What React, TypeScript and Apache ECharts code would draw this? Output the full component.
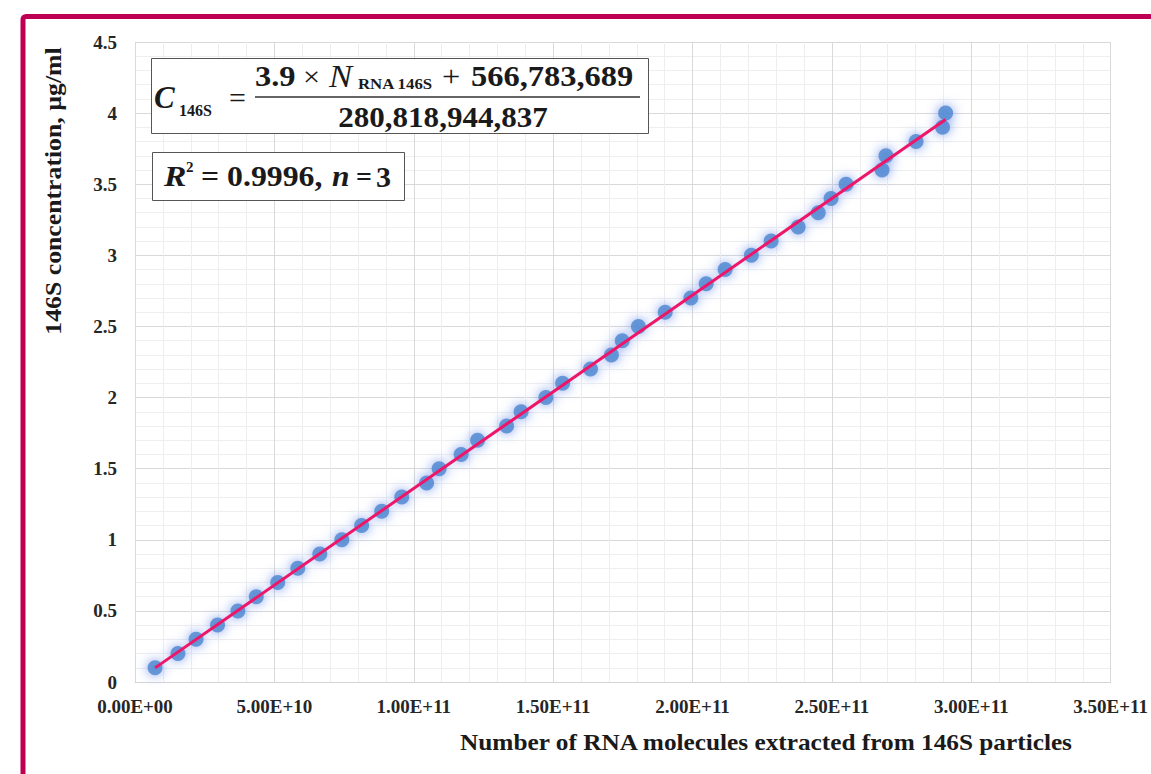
import React, { useEffect, useRef } from "react";
import * as echarts from "echarts";

// Concentration levels (µg/ml)
const concentrations = [
  0.1, 0.2, 0.3, 0.4, 0.5, 0.6, 0.7, 0.8, 0.9, 1.0,
  1.1, 1.2, 1.3, 1.4, 1.5, 1.6, 1.7, 1.8, 1.9, 2.0,
  2.1, 2.2, 2.3, 2.4, 2.5, 2.6, 2.7, 2.8, 2.9, 3.0,
  3.1, 3.2, 3.3, 3.4, 3.5, 3.6, 3.7, 3.8, 3.9, 4.0,
];
// Number of RNA molecules extracted from 146S particles
const rnaMolecules = [
  7.2e9, 1.54e10, 2.19e10, 2.96e10, 3.69e10, 4.35e10, 5.12e10, 5.84e10, 6.63e10, 7.42e10,
  8.13e10, 8.85e10, 9.57e10, 1.046e11, 1.091e11, 1.17e11, 1.229e11, 1.333e11, 1.385e11, 1.474e11,
  1.534e11, 1.634e11, 1.709e11, 1.748e11, 1.806e11, 1.902e11, 1.994e11, 2.049e11, 2.117e11, 2.211e11,
  2.282e11, 2.379e11, 2.451e11, 2.497e11, 2.551e11, 2.68e11, 2.694e11, 2.802e11, 2.897e11, 2.908e11,
];

const xTitle = "Number of RNA molecules extracted from 146S particles";
const yTitle = "146S concentration, µg/ml";

const SERIF = "'Liberation Serif', 'Times New Roman', serif";
const INK = "#1a1a1a";
const SX = 1.12;

function fmtExp(v: number): string {
  const s = v.toExponential(2).toUpperCase();
  const m = s.match(/^(-?[\d.]+)E([+-])(\d+)$/);
  if (!m) return s;
  return `${m[1]}E${m[2]}${m[3].padStart(2, "0")}`;
}

function fit(xs: number[], ys: number[]) {
  const n = xs.length;
  const mx = xs.reduce((a, b) => a + b, 0) / n;
  const my = ys.reduce((a, b) => a + b, 0) / n;
  let sxy = 0;
  let sxx = 0;
  for (let i = 0; i < n; i++) {
    sxy += (xs[i] - mx) * (ys[i] - my);
    sxx += (xs[i] - mx) * (xs[i] - mx);
  }
  const slope = sxy / sxx;
  return { slope, intercept: my - slope * mx };
}

type TxtOpt = {
  size: number;
  bold?: boolean;
  italic?: boolean;
  align?: "left" | "center" | "right";
  scaleX?: number;
};

function txt(text: string, x: number, y: number, o: TxtOpt) {
  return {
    type: "text",
    x,
    y,
    scaleX: o.scaleX ?? 1,
    z: 11,
    style: {
      text,
      fontFamily: SERIF,
      fontSize: o.size,
      fontWeight: o.bold ? "bold" : "normal",
      fontStyle: o.italic ? "italic" : "normal",
      fill: INK,
      align: o.align ?? "left",
      verticalAlign: "middle",
    },
  };
}

export default function App() {
  const ref = useRef<HTMLDivElement>(null);

  useEffect(() => {
    if (!ref.current) return;
    const chart = echarts.init(ref.current, undefined, { renderer: "svg" });
    const points = rnaMolecules.map((x, i) => [x, concentrations[i]]);
    const { slope, intercept } = fit(rnaMolecules, concentrations);
    const xMin = Math.min(...rnaMolecules);
    const xMax = Math.max(...rnaMolecules);
    const trend = [
      [xMin, slope * xMin + intercept],
      [xMax, slope * xMax + intercept],
    ];

    const labelStyle = {
      fontFamily: SERIF,
      fontWeight: "bold" as const,
      fontSize: 19,
      color: "#262626",
    };

    chart.setOption({
      animation: false,
      backgroundColor: "#ffffff",
      grid: { left: 135, top: 42, right: 39, bottom: 92, containLabel: false },
      xAxis: {
        type: "value",
        min: 0,
        max: 3.5e11,
        interval: 5e10,
        axisLine: { show: true, lineStyle: { color: "#d4d4d4", width: 1 } },
        axisTick: { show: false },
        axisLabel: { ...labelStyle, margin: 15, formatter: (v: number) => fmtExp(v) },
        splitLine: { show: true, lineStyle: { color: "#d9d9d9", width: 1 } },
        minorTick: { show: false, splitNumber: 5 },
        minorSplitLine: { show: true, lineStyle: { color: "#eeeeee", width: 1 } },
      },
      yAxis: {
        type: "value",
        min: 0,
        max: 4.5,
        interval: 0.5,
        axisLine: { show: false },
        axisTick: { show: false },
        axisLabel: { ...labelStyle, margin: 18, formatter: (v: number) => String(v) },
        splitLine: { show: true, lineStyle: { color: "#d9d9d9", width: 1 } },
        minorTick: { show: false, splitNumber: 5 },
        minorSplitLine: { show: true, lineStyle: { color: "#eeeeee", width: 1 } },
      },
      series: [
        {
          type: "scatter",
          data: points,
          symbol: "circle",
          symbolSize: 15,
          itemStyle: {
            color: "#4c86cf",
            shadowBlur: 12,
            shadowColor: "rgba(80,120,230,0.95)",
          },
          z: 2,
        },
        {
          type: "line",
          data: trend,
          symbol: "none",
          lineStyle: { color: "#ee1669", width: 3 },
          z: 3,
        },
      ],
      graphic: [
        // magenta frame
        {
          type: "rect",
          shape: { x: 23, y: 16.5, width: 1300, height: 900, r: 3 },
          style: { fill: "none", stroke: "#be0055", lineWidth: 5 },
          z: 10,
        },
        // y axis title
        {
          type: "text",
          x: 53,
          y: 191,
          rotation: Math.PI / 2,
          scaleX: 1.12,
          style: {
            text: yTitle,
            fontFamily: SERIF,
            fontWeight: "bold",
            fontSize: 23,
            fill: INK,
            align: "center",
            verticalAlign: "middle",
          },
          z: 10,
        },
        // x axis title
        {
          type: "text",
          x: 766,
          y: 742,
          scaleX: 1.1,
          style: {
            text: xTitle,
            fontFamily: SERIF,
            fontWeight: "bold",
            fontSize: 23,
            fill: INK,
            align: "center",
            verticalAlign: "middle",
          },
          z: 10,
        },
        // equation box
        {
          type: "rect",
          shape: { x: 151.5, y: 58.5, width: 497, height: 75 },
          style: { fill: "#ffffff", stroke: "#555555", lineWidth: 1 },
          z: 10,
        },
        txt("C", 154, 97, { size: 31, bold: true, italic: true }),
        txt("146S", 179, 110, { size: 16, bold: true }),
        txt("=", 229, 97, { size: 30 }),
        txt("3.9", 255, 77, { size: 29, bold: true, scaleX: SX }),
        txt("×", 303, 77, { size: 27, scaleX: SX }),
        txt("N", 329, 77, { size: 31, italic: true, scaleX: SX }),
        txt("RNA 146S", 358, 84, { size: 15, bold: true, scaleX: SX }),
        txt("+", 442, 77, { size: 29, scaleX: SX }),
        txt("566,783,689", 471, 77, { size: 29, bold: true, scaleX: SX }),
        {
          type: "line",
          shape: { x1: 255, y1: 97, x2: 640, y2: 97 },
          style: { stroke: "#333333", lineWidth: 1.5 },
          z: 11,
        },
        txt("280,818,944,837", 443, 117, { size: 29, bold: true, align: "center", scaleX: 1.07 }),
        // R² box
        {
          type: "rect",
          shape: { x: 152.5, y: 152.5, width: 252, height: 48 },
          style: { fill: "#ffffff", stroke: "#555555", lineWidth: 1 },
          z: 10,
        },
        txt("R", 164, 176, { size: 30, bold: true, italic: true, scaleX: SX }),
        txt("2", 186, 167, { size: 15, bold: true }),
        txt("= 0.9996,", 201, 176, { size: 30, bold: true, scaleX: 1.06 }),
        txt("n", 332, 176, { size: 30, bold: true, italic: true, scaleX: 1.05 }),
        txt("=", 356, 176, { size: 28, bold: true }),
        txt("3", 376, 176, { size: 30, bold: true }),
      ],
    });
    return () => chart.dispose();
  }, []);

  return (
    <div
      ref={ref}
      style={{ position: "fixed", left: 0, top: 0, width: 1151, height: 774, background: "#ffffff" }}
    />
  );
}
